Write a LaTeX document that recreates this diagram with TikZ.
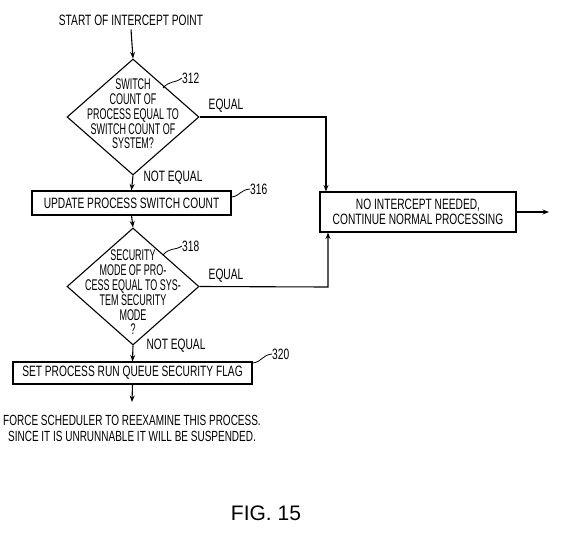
\documentclass[tikz,border=0pt]{standalone}
\usepackage{fontspec}
\setmainfont{Liberation Sans}[FakeStretch=0.68]
\newfontfamily\dfont{Liberation Sans}[FakeStretch=0.58]
\newfontfamily\figfont{Liberation Sans}
\usetikzlibrary{shapes.geometric,arrows.meta}
\tikzset{
  flow/.style={line width=1.1pt},
  arr/.style={flow,-{Stealth[length=6.5pt,width=5pt]}},
  dec/.style={draw,line width=1.1pt,shape=diamond,inner sep=0pt,minimum width=132pt,minimum height=116pt},
  proc/.style={draw,line width=1.1pt,inner sep=0pt},
  txt/.style={font=\fontsize{15}{14.6}\selectfont,inner sep=0pt,align=center},
  dtxt/.style={font=\dfont\fontsize{15.5}{14.8}\selectfont,inner sep=0pt,align=center},
  lead/.style={line width=0.8pt}
}
\begin{document}
\begin{tikzpicture}[x=1pt,y=-1pt]
\useasboundingbox (0,0) rectangle (576,536);
% start
\node[txt] (start) at (131,20) {START OF INTERCEPT POINT};
% diamond 1
\node[dec] (d1) at (133,117) {};
\node[dtxt] (d1t) at (133,114) {SWITCH\\COUNT OF\\PROCESS EQUAL TO\\SWITCH COUNT OF\\SYSTEM?};
% box 316
\node[proc,minimum width=199pt,minimum height=24pt] (b316) at (131.5,203) {};
\node[txt] (b316t) at (b316.center) {UPDATE PROCESS SWITCH COUNT};
% diamond 2
\node[dec,minimum height=117pt] (d2) at (133,286.5) {};
\node[dtxt] (d2t) at (133,292.5) {SECURITY\\MODE OF PRO-\\CESS EQUAL TO SYS-\\TEM SECURITY\\MODE\\?};
% box 320
\node[proc,minimum width=239pt,minimum height=22pt] (b320) at (132.5,373) {};
\node[txt] (b320t) at (b320.center) {SET PROCESS RUN QUEUE SECURITY FLAG};
% right box
\node[proc,minimum width=196pt,minimum height=40pt] (nb) at (418,212) {};
\node[txt] (nbt) at (nb.center) {NO INTERCEPT NEEDED,\\CONTINUE NORMAL PROCESSING};
% bottom text
\node[txt,font=\fontsize{14.7}{16.5}\selectfont] (force) at (132,428.5) {FORCE SCHEDULER TO REEXAMINE THIS PROCESS.\\SINCE IT IS UNRUNNABLE IT WILL BE SUSPENDED.};
\coordinate (fend) at (132,402);
\coordinate (outend) at (549,212);
\coordinate (c1) at (326,117);
\coordinate (c2) at (328,287);
% labels
\node[txt] (eq1) at (226,106) {EQUAL};
\node[txt] (eq2) at (226,276) {EQUAL};
\node[txt] (ne1) at (173,178) {NOT EQUAL};
\node[txt] (ne2) at (176,346) {NOT EQUAL};
\node[txt,anchor=west] (l312) at (182,78) {312};
\node[txt,anchor=west] (l316) at (250,189) {316};
\node[txt,anchor=west] (l318) at (182,246) {318};
\node[txt,anchor=west] (l320) at (272,354) {320};
% leaders
\draw[lead] (163,88) .. controls (170,80) and (174,84) .. (l312.west);
\draw[lead] (b316.east |- 0,197) .. controls (240,196) and (240,190) .. (l316.west);
\draw[lead] (163,255) .. controls (170,247) and (174,251) .. (l318.west);
\draw[lead] (b320.east |- 0,363) .. controls (262,362) and (262,355) .. (l320.west);
% connectors
\draw[arr] (start.south) ++(0,4) coordinate (s0) -- (d1.north);
\draw[arr] (d1.south) -- (b316.north);
\draw[arr] (b316.south) -- (d2.north);
\draw[arr] (d2.south) -- (b320.north);
\draw[arr] (b320.south) -- (fend);
\draw[arr] (d1.east) -- (c1) -- (c1 |- nb.north);
\draw[arr] (d2.east) -- (c2) -- (c2 |- nb.south);
\draw[arr] (nb.east) -- (outend);
% fig
\node[font=\figfont\fontsize{21}{24}\selectfont,inner sep=0pt] (fig) at (266,513) {FIG. 15};
\end{tikzpicture}
\end{document}
